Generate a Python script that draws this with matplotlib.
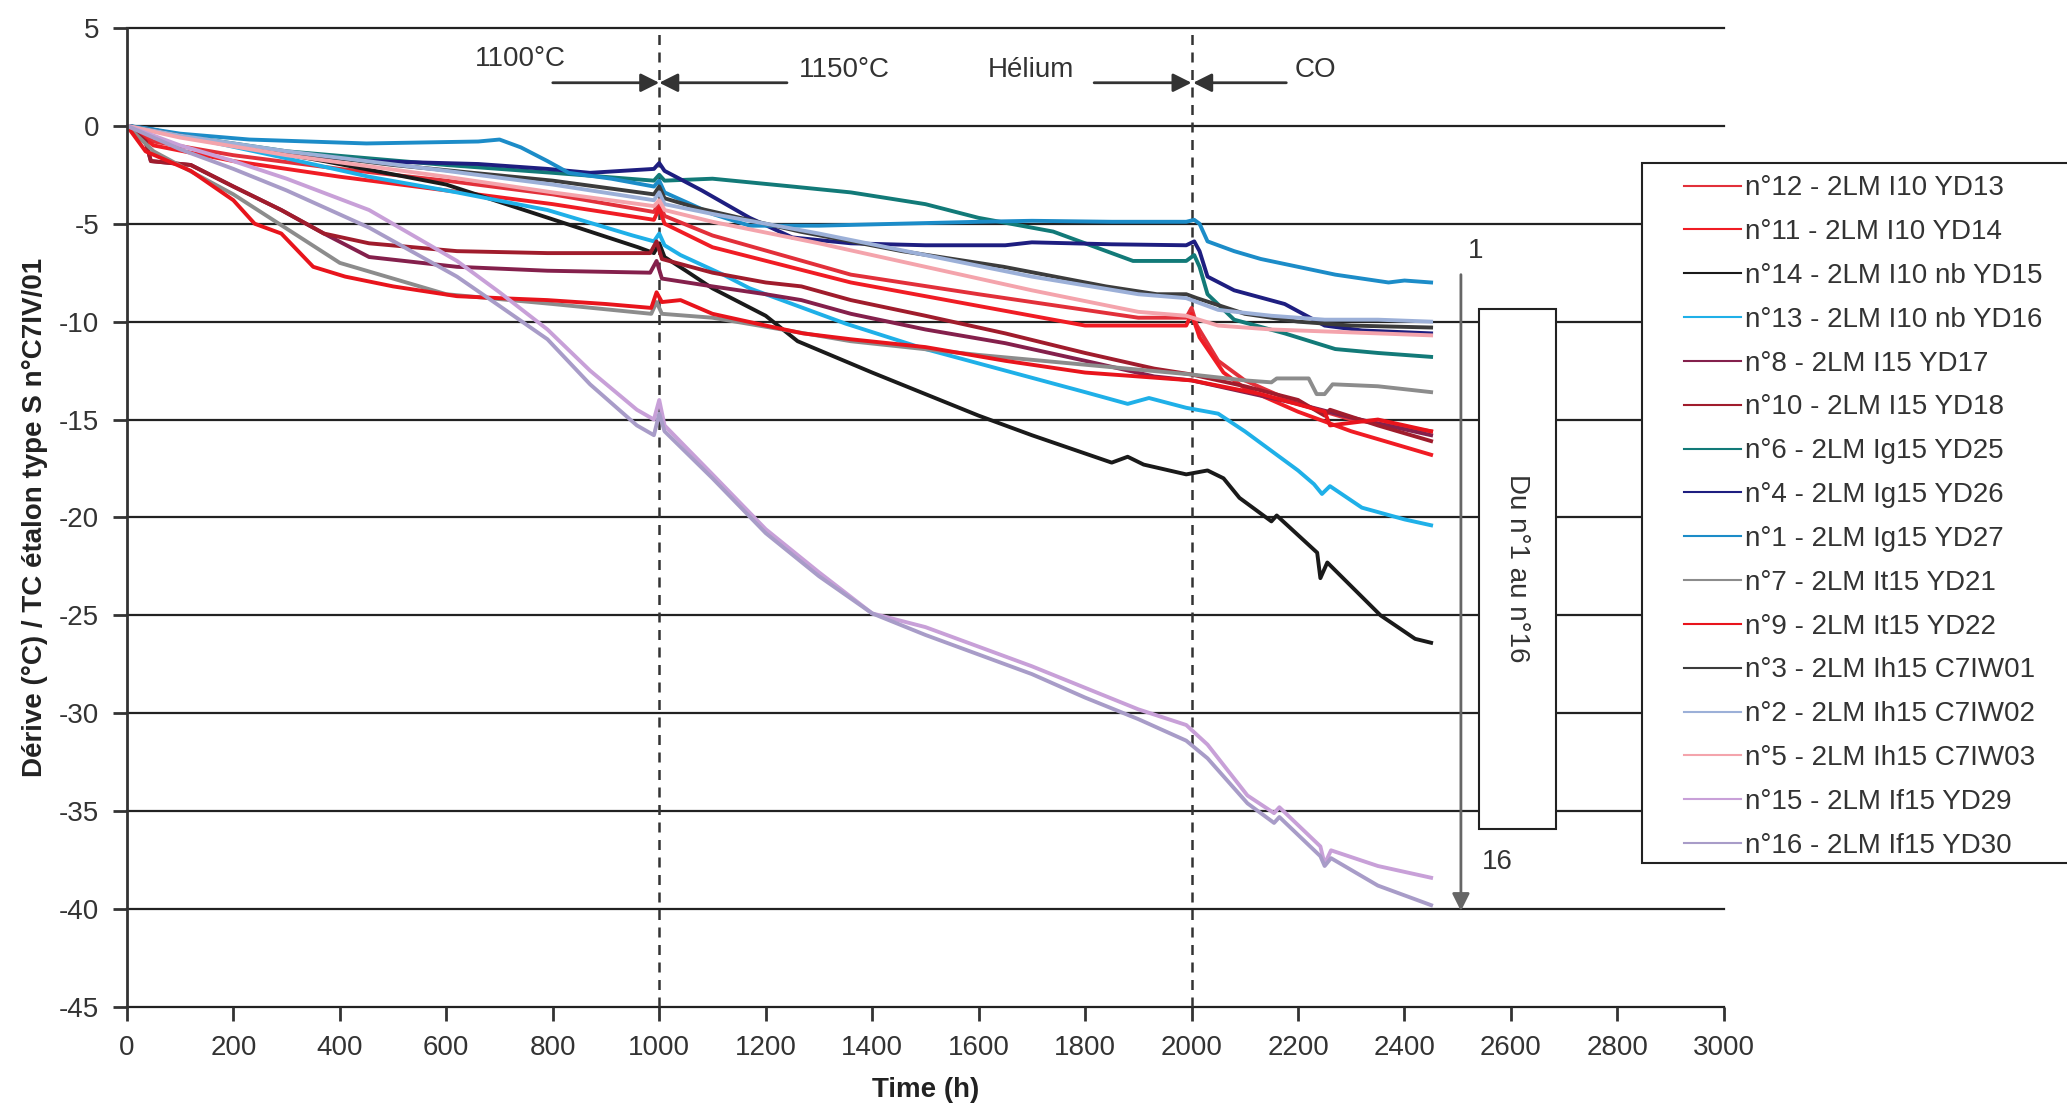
import matplotlib
matplotlib.use("Agg")
import matplotlib.pyplot as plt
from matplotlib.patches import Rectangle

plt.rcParams['font.family'] = ['Liberation Sans', 'DejaVu Sans']
plt.rcParams['axes.unicode_minus'] = False

# thermocouple drift vs. time, read per sensor
t_n12 = [0, 50, 200, 400, 600, 800, 990, 1000, 1010, 1100, 1360, 1600, 1800, 1900, 1990, 2000, 2010, 2050, 2100, 2200, 2300, 2450]
v_n12 = [0, -0.8, -1.5, -2.2, -2.8, -3.5, -4.4, -3.9, -4.6, -5.6, -7.6, -8.6, -9.4, -9.8, -9.8, -9.3, -10.2, -12.0, -13.0, -14.2, -15.0, -15.6]

t_n11 = [0, 50, 200, 400, 600, 800, 990, 1000, 1010, 1100, 1360, 1600, 1800, 1990, 2000, 2015, 2060, 2100, 2200, 2300, 2450]
v_n11 = [0, -1.0, -1.8, -2.6, -3.3, -4.0, -4.8, -4.2, -5.0, -6.2, -8.0, -9.2, -10.2, -10.2, -9.6, -10.8, -12.6, -13.4, -14.6, -15.6, -16.8]

t_n14 = [0, 120, 370, 600, 870, 960, 990, 1000, 1010, 1050, 1100, 1200, 1260, 1400, 1600, 1700, 1850, 1880, 1910, 1990, 2030, 2060, 2090, 2150, 2160, 2236, 2242, 2255, 2355, 2420, 2450]
v_n14 = [0, -0.6, -1.8, -3.0, -5.4, -6.2, -6.5, -6.0, -6.7, -7.4, -8.3, -9.7, -11.0, -12.6, -14.8, -15.8, -17.2, -16.9, -17.3, -17.8, -17.6, -18.0, -19.0, -20.2, -19.9, -21.8, -23.1, -22.3, -25.0, -26.2, -26.4]

t_n13 = [0, 50, 120, 290, 455, 620, 790, 950, 990, 1000, 1010, 1040, 1120, 1170, 1260, 1350, 1500, 1650, 1800, 1880, 1920, 1990, 2050, 2100, 2150, 2200, 2230, 2245, 2260, 2320, 2400, 2450]
v_n13 = [0, -0.2, -0.6, -1.6, -2.6, -3.4, -4.3, -5.6, -5.9, -5.5, -6.1, -6.6, -7.6, -8.3, -9.2, -10.1, -11.4, -12.5, -13.6, -14.2, -13.9, -14.4, -14.7, -15.6, -16.6, -17.6, -18.3, -18.8, -18.4, -19.5, -20.1, -20.4]

t_n8 = [0, 35, 45, 120, 200, 290, 370, 455, 620, 790, 983, 995, 1005, 1100, 1200, 1267, 1360, 1500, 1650, 1800, 1930, 2000, 2100, 2200, 2300, 2450]
v_n8 = [0, -0.8, -1.8, -2.0, -3.1, -4.3, -5.5, -6.7, -7.2, -7.4, -7.5, -6.9, -7.8, -8.2, -8.6, -8.9, -9.6, -10.4, -11.1, -12.0, -12.8, -13.0, -13.6, -14.2, -14.9, -15.8]

t_n10 = [0, 35, 45, 120, 200, 290, 370, 455, 620, 790, 983, 995, 1005, 1100, 1200, 1267, 1360, 1500, 1650, 1800, 1930, 2000, 2100, 2200, 2250, 2260, 2350, 2450]
v_n10 = [0, -0.8, -1.8, -2.0, -3.1, -4.3, -5.5, -6.0, -6.4, -6.5, -6.5, -5.9, -6.8, -7.5, -8.0, -8.2, -8.9, -9.7, -10.6, -11.6, -12.4, -12.7, -13.3, -14.0, -14.8, -14.5, -15.3, -16.1]

t_n6 = [0, 100, 300, 600, 800, 990, 1000, 1010, 1100, 1250, 1360, 1500, 1600, 1740, 1820, 1890, 1990, 2005, 2015, 2030, 2080, 2175, 2270, 2350, 2450]
v_n6 = [0, -0.5, -1.3, -2.0, -2.4, -2.8, -2.5, -2.8, -2.7, -3.1, -3.4, -4.0, -4.7, -5.4, -6.2, -6.9, -6.9, -6.6, -7.2, -8.6, -9.9, -10.6, -11.4, -11.6, -11.8]

t_n4 = [0, 50, 120, 230, 370, 455, 660, 790, 870, 990, 1000, 1010, 1080, 1170, 1250, 1360, 1500, 1650, 1700, 1850, 1990, 2005, 2015, 2030, 2080, 2175, 2250, 2320, 2450]
v_n4 = [0, -0.2, -0.6, -1.1, -1.6, -1.8, -1.95, -2.2, -2.4, -2.2, -1.9, -2.3, -3.3, -4.7, -5.7, -6.0, -6.1, -6.1, -5.95, -6.05, -6.1, -5.9, -6.4, -7.7, -8.4, -9.1, -10.2, -10.45, -10.6]

t_n1 = [0, 30, 100, 230, 450, 660, 700, 740, 790, 830, 910, 990, 1000, 1010, 1100, 1170, 1300, 1450, 1600, 1700, 1850, 1990, 2005, 2015, 2030, 2080, 2130, 2200, 2270, 2370, 2400, 2450]
v_n1 = [0, -0.1, -0.4, -0.7, -0.9, -0.8, -0.7, -1.1, -1.8, -2.4, -2.7, -3.1, -2.8, -3.4, -4.5, -5.1, -5.1, -5.0, -4.9, -4.85, -4.9, -4.9, -4.8, -5.0, -5.9, -6.4, -6.8, -7.2, -7.6, -8.0, -7.9, -8.0]

t_n7 = [0, 50, 200, 400, 600, 800, 985, 995, 1005, 1100, 1360, 1600, 1800, 2000, 2100, 2150, 2160, 2220, 2235, 2250, 2265, 2350, 2450]
v_n7 = [0, -1.3, -3.5, -7.0, -8.6, -9.1, -9.6, -9.0, -9.6, -9.8, -11.0, -11.7, -12.2, -12.7, -13.0, -13.1, -12.9, -12.9, -13.7, -13.7, -13.2, -13.3, -13.6]

t_n9 = [0, 35, 120, 200, 240, 290, 350, 410, 500, 620, 700, 790, 900, 985, 995, 1005, 1040, 1100, 1200, 1270, 1360, 1500, 1650, 1800, 1950, 2000, 2130, 2250, 2260, 2350, 2450]
v_n9 = [0, -1.3, -2.3, -3.8, -5.0, -5.5, -7.2, -7.7, -8.2, -8.7, -8.8, -8.9, -9.1, -9.3, -8.5, -9.0, -8.9, -9.6, -10.2, -10.6, -10.9, -11.3, -12.0, -12.6, -12.9, -13.0, -13.7, -14.6, -15.3, -15.0, -15.6]

t_n3 = [0, 100, 200, 500, 800, 990, 1000, 1010, 1072, 1264, 1456, 1647, 1839, 1935, 1990, 2010, 2100, 2200, 2300, 2450]
v_n3 = [0, -0.5, -1.0, -2.0, -2.8, -3.5, -3.1, -3.7, -4.2, -5.4, -6.4, -7.2, -8.2, -8.6, -8.6, -8.8, -9.6, -10.0, -10.2, -10.3]

t_n2 = [0, 100, 300, 600, 800, 990, 1000, 1010, 1100, 1300, 1500, 1700, 1900, 1990, 2050, 2150, 2250, 2350, 2450]
v_n2 = [0, -0.5, -1.3, -2.3, -3.0, -3.8, -3.4, -4.0, -4.5, -5.5, -6.6, -7.7, -8.6, -8.8, -9.4, -9.7, -9.9, -9.9, -10.0]

t_n5 = [0, 100, 300, 600, 800, 990, 1000, 1010, 1100, 1300, 1500, 1700, 1900, 1990, 2050, 2150, 2250, 2350, 2450]
v_n5 = [0, -0.6, -1.5, -2.6, -3.4, -4.1, -3.8, -4.3, -4.9, -6.0, -7.2, -8.4, -9.5, -9.7, -10.2, -10.4, -10.5, -10.6, -10.7]

t_n15 = [0, 100, 200, 300, 455, 620, 700, 790, 870, 958, 990, 1000, 1010, 1100, 1200, 1300, 1400, 1500, 1600, 1700, 1800, 1900, 1990, 2030, 2105, 2155, 2165, 2242, 2250, 2262, 2350, 2450]
v_n15 = [0, -1.0, -1.8, -2.7, -4.3, -6.9, -8.5, -10.4, -12.5, -14.5, -15.0, -14.0, -15.3, -17.8, -20.6, -22.8, -24.9, -25.6, -26.6, -27.6, -28.7, -29.8, -30.6, -31.6, -34.2, -35.1, -34.8, -36.8, -37.7, -37.0, -37.8, -38.4]

t_n16 = [0, 100, 200, 300, 455, 620, 700, 790, 870, 958, 990, 1000, 1010, 1100, 1200, 1300, 1400, 1500, 1600, 1700, 1800, 1900, 1990, 2030, 2105, 2155, 2165, 2242, 2250, 2262, 2350, 2450]
v_n16 = [0, -1.2, -2.2, -3.3, -5.2, -7.7, -9.2, -10.9, -13.2, -15.3, -15.8, -14.7, -15.6, -18.0, -20.8, -23.0, -24.9, -26.0, -27.0, -28.0, -29.2, -30.3, -31.4, -32.3, -34.6, -35.6, -35.3, -37.3, -37.8, -37.4, -38.8, -39.8]

labels = ["n°12 - 2LM I10 YD13", "n°11 - 2LM I10 YD14", "n°14 - 2LM I10 nb YD15",
          "n°13 - 2LM I10 nb YD16", "n°8 - 2LM I15 YD17", "n°10 - 2LM I15 YD18",
          "n°6 - 2LM Ig15 YD25", "n°4 - 2LM Ig15 YD26", "n°1 - 2LM Ig15 YD27",
          "n°7 - 2LM It15 YD21", "n°9 - 2LM It15 YD22", "n°3 - 2LM Ih15 C7IW01",
          "n°2 - 2LM Ih15 C7IW02", "n°5 - 2LM Ih15 C7IW03", "n°15 - 2LM If15 YD29",
          "n°16 - 2LM If15 YD30"]
colors = ['#e2303a', '#f01c24', '#1a1a1a', '#1fb0e8', '#84204c', '#a01c2c',
          '#127a78', '#1e1e80', '#1c8cc8', '#8c8c8c', '#e8141c', '#3c3c3c',
          '#9cb0d8', '#f4a4ac', '#c8a0d8', '#a89cc8']
series = [(t_n12, v_n12), (t_n11, v_n11), (t_n14, v_n14), (t_n13, v_n13),
          (t_n8, v_n8), (t_n10, v_n10), (t_n6, v_n6), (t_n4, v_n4),
          (t_n1, v_n1), (t_n7, v_n7), (t_n9, v_n9), (t_n3, v_n3),
          (t_n2, v_n2), (t_n5, v_n5), (t_n15, v_n15), (t_n16, v_n16)]

fig = plt.figure(figsize=(20.67, 11.17), dpi=100)
ax = fig.add_axes([0.0614, 0.0985, 0.7726, 0.8765])

for (t, v), c, lab in zip(series, colors, labels):
    ax.plot(t, v, color=c, lw=2.8, label=lab, solid_joinstyle='round')

ax.set_xlim(0, 3000)
ax.set_ylim(-45, 5)
ax.set_xticks(range(0, 3001, 200))
ax.set_yticks(range(-45, 6, 5))
for y in range(-45, 6, 5):
    ax.axhline(y, color='#222222', lw=1.6, zorder=0.5, clip_on=False)
for s in ['top', 'right', 'bottom']:
    ax.spines[s].set_visible(False)
ax.spines['left'].set_color('#333333')
ax.spines['left'].set_linewidth(2)
ax.tick_params(axis='both', direction='out', length=10, width=2, color='#333333',
               labelsize=20, labelcolor='#333333', pad=10)

# phase boundaries
for x in [1000, 2000]:
    ax.axvline(x, color='#333333', lw=1.8, ls=(0, (4, 3)), zorder=1)

arr = dict(arrowstyle='-|>', color='#333333', lw=2, mutation_scale=28, shrinkA=0, shrinkB=0)
for x0, x1 in [(800, 1000), (1240, 1000), (1817, 2000), (2178, 2003)]:
    ax.annotate('', xy=(x1, 2.2), xytext=(x0, 2.2), arrowprops=arr)
ax.text(740, 3.4, '1100°C', fontsize=20, color='#333333', ha='center', va='center')
ax.text(1347, 2.85, '1150°C', fontsize=20, color='#333333', ha='center', va='center')
ax.text(1698, 2.85, 'Hélium', fontsize=20, color='#333333', ha='center', va='center')
ax.text(2232, 2.85, 'CO', fontsize=20, color='#333333', ha='center', va='center')

# order indicator
ax.annotate('', xy=(2506, -40.1), xytext=(2506, -7.6),
            arrowprops=dict(arrowstyle='-|>', color='#666666', lw=2, mutation_scale=26,
                            shrinkA=0, shrinkB=0))
ax.text(2534, -6.4, '1', fontsize=20, color='#333333', ha='center', va='center')
ax.text(2575, -37.6, '16', fontsize=20, color='#333333', ha='center', va='center')
ax.add_patch(Rectangle((2540, -35.9), 145, 26.55, facecolor='white', edgecolor='#222222',
                       lw=1.5, zorder=3, clip_on=False))
ax.text(2612, -22.6, 'Du n°1 au n°16', fontsize=20, color='#333333', rotation=270,
        ha='center', va='center', zorder=4)

narrow = ['Liberation Sans Narrow', 'Liberation Sans', 'DejaVu Sans']
ax.set_ylabel('Dérive (°C) / TC étalon type S n°C7IV/01', fontsize=20, fontweight='bold',
              family=narrow, color='#222222', labelpad=8)
ax.set_xlabel('Time (h)', fontsize=20, fontweight='bold', family=narrow, color='#222222',
              labelpad=12)

# legend box sits partly outside the axes
fig.patches.append(Rectangle((1642 / 2067, 1 - 863 / 1117), 0.25, 700 / 1117,
                             transform=fig.transFigure, facecolor='white',
                             edgecolor='#222222', lw=1.5, zorder=5))
leg = fig.legend(loc='upper left', bbox_to_anchor=(1676 / 2067, 1 - 167 / 1117),
                 frameon=False, fontsize=20, handlelength=2.05, handletextpad=0.12,
                 labelspacing=0.642, borderpad=0.3, borderaxespad=0)
leg.set_zorder(6)
for txt in leg.get_texts():
    txt.set_color('#333333')
for line in leg.get_lines():
    line.set_linewidth(1.5)

fig.savefig('out.png', dpi=100)
